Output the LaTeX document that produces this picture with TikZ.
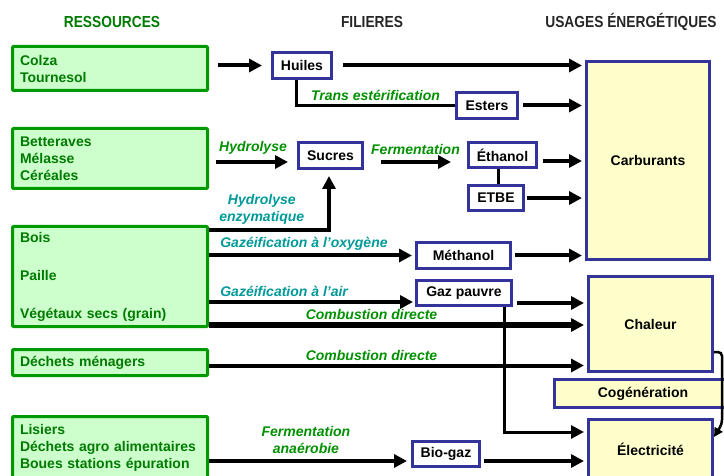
\documentclass[tikz,border=0pt]{standalone}
\usepackage{fontspec}
\setmainfont{Liberation Sans}
\usetikzlibrary{arrows.meta, positioning, calc}
\definecolor{ResLine}{HTML}{009900}
\definecolor{ResFill}{HTML}{CCFFCC}
\definecolor{ResText}{HTML}{007A00}
\definecolor{Frame}{HTML}{333399}
\definecolor{UseFill}{HTML}{FFFFCC}
\definecolor{Leaf}{HTML}{009000}
\definecolor{Teal}{HTML}{009999}
\newcommand{\headtext}[1]{\scalebox{0.86}[1]{#1}}

\begin{document}
\begin{tikzpicture}[
            x=1pt, y=-1pt,
            font=\fontsize{14}{17}\selectfont\bfseries,
            header/.style={font=\fontsize{16}{18}\selectfont\bfseries, text=black!85},
            resource/.style={
                rectangle,
                draw=ResLine,
                fill=ResFill,
                line width=3pt,
                rounded corners=1pt,
                text=ResText,
                align=left,
                text width=180pt,
                inner xsep=7.5pt,
                inner ysep=0pt
            },
            filiere/.style={
                rectangle,
                draw=Frame,
                fill=white,
                line width=3pt,
                minimum height=26pt,
                inner sep=0pt,
                text=black
            },
            usage/.style={
                rectangle,
                draw=Frame,
                fill=UseFill,
                line width=3pt,
                inner sep=0pt
            },
            arrow/.style={-{Triangle[length=13pt,width=13pt]}, line width=4pt},
            link/.style={line width=3pt},
            note/.style={font=\fontsize{14}{17}\selectfont\bfseries\itshape, text=Leaf},
            tealnote/.style={note, text=Teal}
        ]
            \useasboundingbox (0,0) rectangle (724,476);

            % Column headers
            \node[header, text=ResText] (hres) at (112,22) {\headtext{RESSOURCES}};
            \node[header] (hfil) at (372,22) {\headtext{FILIERES}};
            \node[header] (husage) at (631,22) {\headtext{USAGES ÉNERGÉTIQUES}};

            % Resources
            \node[resource, minimum height=44pt] (colza) at (110,68.5) {Colza\\Tournesol};
            \node[resource, minimum height=60pt] (betteraves) at (110,158.5) {Betteraves\\Mélasse\\Céréales};
            \node[resource, minimum height=100pt] (bois) at (110,276.5) {Bois\\[21pt]Paille\\[21pt]Végétaux secs (grain)};
            \node[resource, minimum height=26pt] (dechets) at (110,362.5) {Déchets ménagers};
            \node[resource, minimum height=63pt] (lisiers) at (110,448) {Lisiers\\Déchets agro alimentaires\\Boues stations épuration};

            % Filieres
            \node[filiere, minimum width=59pt] (huiles) at (302,65.5) {Huiles};
            \node[filiere, minimum width=61pt] (esters) at (487,105.5) {Esters};
            \node[filiere, minimum width=64pt] (sucres) at (330.5,155.5) {Sucres};
            \node[filiere, minimum width=68pt, minimum height=25pt] (ethanol) at (502.5,155) {Éthanol};
            \node[filiere, minimum width=55pt, minimum height=25pt] (etbe) at (496,198) {ETBE};
            \node[filiere, minimum width=94pt] (methanol) at (463.5,255.5) {Méthanol};
            \node[filiere, minimum width=95pt, minimum height=25pt] (gazpauvre) at (464,293) {Gaz pauvre};
            \node[filiere, minimum width=67pt, minimum height=25pt] (biogaz) at (446,454) {Bio-gaz};

            % Usages
            \node[usage, minimum width=123pt, minimum height=198pt] (carb) at (648,160.5) {Carburants};
            \node[usage, minimum width=124pt, minimum height=95pt] (chaleur) at (650.5,324) {Chaleur};
            \node[usage, minimum width=177pt, minimum height=28pt] (cogen) at (643,393.5) {Cogénération};
            \node[usage, minimum width=124pt, minimum height=59pt] (elec) at (650.5,449) {Électricité};

            % Oleagineux
            \draw[arrow, shorten <=9pt, shorten >=9pt] (colza.east |- huiles) -- (huiles.west);
            \draw[arrow, shorten <=10pt, shorten >=3pt] (huiles.east) -- (huiles -| carb.west);
            \draw[link] ([xshift=-6pt]huiles.south) |- node[note, pos=0.75, above] {Trans estérification} (esters.west);
            \draw[arrow, shorten <=4pt, shorten >=3pt] (esters.east) -- (esters -| carb.west);

            % Sucres et ethanol
            \draw[arrow, shorten <=7pt, shorten >=9pt] ([yshift=-6.5pt]sucres.west -| betteraves.east) -- node[note, above=2pt] {Hydrolyse} ([yshift=-6.5pt]sucres.west);
            \draw[arrow, shorten <=17pt, shorten >=16pt] ([yshift=-6.5pt]sucres.east) -- node[note, above=2pt] {Fermentation} ([yshift=-6.5pt]sucres.east -| ethanol.west);
            \draw[arrow, shorten <=5pt, shorten >=3pt] ([yshift=-6pt]ethanol.east) -- ([yshift=-6pt]ethanol.east -| carb.west);
            \draw[link] ([xshift=2pt]etbe.north) -- ([xshift=2pt]etbe.north |- ethanol.south);
            \draw[arrow, shorten <=2pt, shorten >=3pt] (etbe.east) -- (etbe -| carb.west);

            % Bois, paille
            \draw[arrow, shorten >=6pt] ([yshift=-5pt]bois.north east) -| node[tealnote, pos=0.22, above, align=center] {Hydrolyse\\enzymatique} ([xshift=-1.5pt]sucres.south);
            \draw[arrow, shorten >=3pt] (methanol.west -| bois.east) -- node[tealnote, pos=0, anchor=south west, xshift=6pt] {Gazéification à l'oxygène} (methanol.west);
            \draw[arrow, shorten <=3pt, shorten >=3pt] (methanol.east) -- (methanol -| carb.west);
            \draw[arrow, shorten >=2pt] ([yshift=-9pt]gazpauvre.west -| bois.east) -- node[tealnote, pos=0, anchor=south west, xshift=6pt] {Gazéification à l'air} ([yshift=-9pt]gazpauvre.west);
            \draw[arrow, shorten <=4pt, shorten >=3pt] ([yshift=-10pt]gazpauvre.east) -- ([yshift=-10pt]gazpauvre.east -| chaleur.west);
            \draw[arrow, line width=5pt, shorten >=3pt] ([yshift=3pt]bois.south east) -- node[note, pos=0.43, above] {Combustion directe} ([yshift=3pt]bois.south east -| chaleur.west);
            \draw[arrow, line width=3pt, shorten >=3pt] ([xshift=40pt]gazpauvre.south) |- ([yshift=17pt]elec.west);

            % Dechets
            \draw[arrow, shorten >=3pt] ([yshift=-3pt]dechets.east) -- node[note, pos=0.43, above] {Combustion directe} ([yshift=-3pt]dechets.east -| chaleur.west);
            \draw[arrow, shorten >=4pt] ([yshift=-7pt]biogaz.west -| lisiers.east) -- node[note, pos=0.48, above=2pt, align=center] {Fermentation\\anaérobie} ([yshift=-7pt]biogaz.west);
            \draw[arrow, shorten <=3pt, shorten >=3pt] ([yshift=-7pt]biogaz.east) -- ([yshift=-7pt]biogaz.east -| elec.west);

            % Cogeneration
            \draw[-{Triangle[length=9pt,width=9pt]}, line width=2.5pt, rounded corners=4pt] ([yshift=-28pt]chaleur.east) -- ++(8,0) -- ++(0,72) -- ([yshift=12pt]elec.east);
        \end{tikzpicture}
\end{document}
